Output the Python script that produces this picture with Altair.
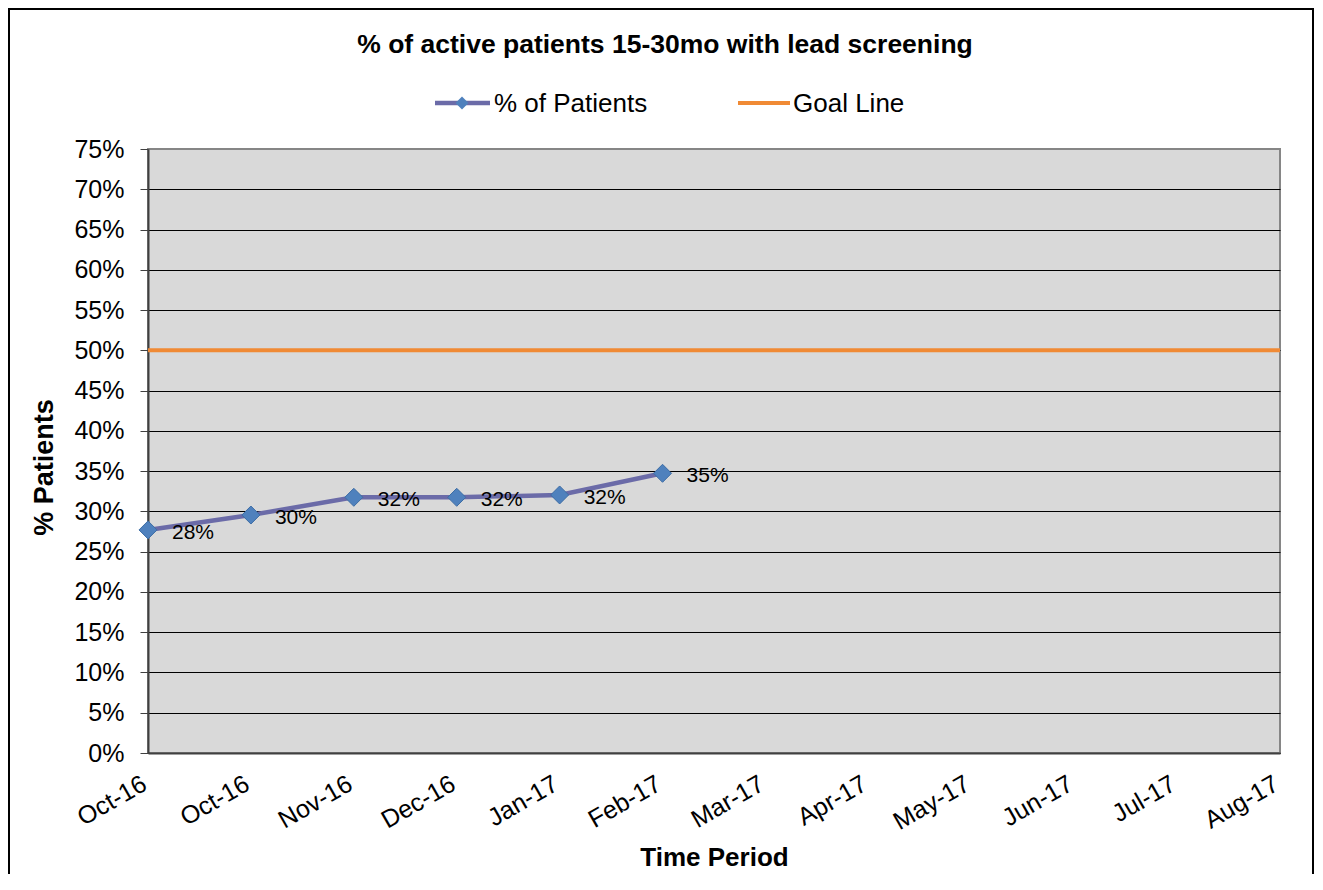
import altair as alt
import pandas as pd

# ---- data ----
months = ["Oct-16", "Oct-16", "Nov-16", "Dec-16", "Jan-17", "Feb-17",
          "Mar-17", "Apr-17", "May-17", "Jun-17", "Jul-17", "Aug-17"]
patients = [0.277, 0.2955, 0.3175, 0.3175, 0.3204, 0.3473]
goal = [0.50] * len(months)
y_ticks = [0, 0.05, 0.10, 0.15, 0.20, 0.25, 0.30, 0.35, 0.40, 0.45,
           0.50, 0.55, 0.60, 0.65, 0.70, 0.75]

title_text = "% of active patients 15-30mo with lead screening"
series_names = ["% of Patients", "Goal Line"]

FONT = "Liberation Sans"
LINE_COLOR = "#6B6BA8"
MARKER_COLOR = "#4F81BD"
GOAL_COLOR = "#F08A35"

pat_df = pd.DataFrame({"idx": list(range(len(patients))), "value": patients})
pat_df["label"] = [f"{round(v * 100):.0f}%" for v in patients]
goal_df = pd.DataFrame({"idx": list(range(len(months))), "value": goal})
one = pd.DataFrame({"a": [0]})

label_expr = "[" + ",".join(f"'{m}'" for m in months) + "][datum.value]"

x_enc = alt.X(
    "idx:O",
    scale=alt.Scale(type="point", domain=list(range(len(months))), padding=0),
    axis=alt.Axis(
        title="Time Period",
        labelExpr=label_expr,
        labelAngle=330,
        labelAlign="right",
        labelBaseline="top",
        labelPadding=18,
        labelOffset=-10,
        labelFontSize=25,
        labelFont=FONT,
        labelColor="black",
        ticks=False,
        tickSize=0,
        domainColor="#404040",
        domainWidth=2,
        grid=False,
        titleFont=FONT,
        titleFontSize=26,
        titleFontWeight="bold",
        titleColor="black",
        titleX=566,
        titleY=104,
        titleAlign="center",
        titleBaseline="middle",
    ),
)

y_scale = alt.Scale(domain=[0, 0.75], nice=False)
y_axis = alt.Axis(
    title="% Patients",
    values=y_ticks,
    format=".0%",
    labelFontSize=25,
    labelFont=FONT,
    labelColor="black",
    labelPadding=16,
    tickSize=8,
    tickColor="#404040",
    tickWidth=1,
    domainColor="#404040",
    domainWidth=2,
    grid=True,
    gridColor={"condition": {"test": "datum.value >= 0.749", "value": "#868686"}, "value": "#000000"},
    gridWidth=1,
    titleFont=FONT,
    titleFontSize=27,
    titleFontWeight="bold",
    titleColor="black",
    titleAngle=270,
    titleX=-104,
    titleY=318,
    titleAlign="center",
    titleBaseline="middle",
)

goal_line = alt.Chart(goal_df).mark_line(color=GOAL_COLOR, strokeWidth=4).encode(
    x=x_enc, y=alt.Y("value:Q", scale=y_scale, axis=y_axis)
)
pat_line = alt.Chart(pat_df).mark_line(color=LINE_COLOR, strokeWidth=4.5).encode(
    x="idx:O", y="value:Q"
)
pat_pts = alt.Chart(pat_df).mark_point(
    shape="diamond", filled=True, size=324, fill=MARKER_COLOR, stroke="#3D6DA5",
    strokeWidth=1, opacity=1
).encode(x="idx:O", y="value:Q")
pat_lbl = alt.Chart(pat_df).mark_text(
    align="left", baseline="middle", dx=24, dy=3, fontSize=21, font=FONT, color="black"
).encode(x="idx:O", y="value:Q", text="label:N")

# ---- title, legend, border (fixed layout styling) ----
title = alt.Chart(one).mark_text(
    font=FONT, fontSize=26.5, fontWeight="bold", align="center", baseline="middle", color="black"
).encode(x=alt.value(517), y=alt.value(-104), text=alt.value(title_text))

leg_line1 = alt.Chart(one).mark_rule(color=LINE_COLOR, strokeWidth=4.5).encode(
    x=alt.value(287), x2=alt.value(342), y=alt.value(-46)
)
leg_pt1 = alt.Chart(one).mark_point(
    shape="diamond", filled=True, size=170, fill=MARKER_COLOR, opacity=1
).encode(x=alt.value(314), y=alt.value(-46))
leg_txt1 = alt.Chart(one).mark_text(
    font=FONT, fontSize=26, align="left", baseline="middle", color="black"
).encode(x=alt.value(346), y=alt.value(-45), text=alt.value(series_names[0]))
leg_line2 = alt.Chart(one).mark_rule(color=GOAL_COLOR, strokeWidth=4).encode(
    x=alt.value(590), x2=alt.value(642), y=alt.value(-46)
)
leg_txt2 = alt.Chart(one).mark_text(
    font=FONT, fontSize=26, align="left", baseline="middle", color="black"
).encode(x=alt.value(645), y=alt.value(-45), text=alt.value(series_names[1]))

border = alt.Chart(one).mark_rect(fillOpacity=0, stroke="black", strokeWidth=2).encode(
    x=alt.value(-139), x2=alt.value(1165), y=alt.value(-140), y2=alt.value(760)
)

chart = alt.layer(
    goal_line, pat_line, pat_pts, pat_lbl,
    title, leg_line1, leg_pt1, leg_txt1, leg_line2, leg_txt2, border
).properties(
    width=1132,
    height=604,
    autosize=alt.AutoSizeParams(type="none"),
    padding={"left": 140, "top": 141, "right": 35, "bottom": 121},
).configure_view(
    fill="#D9D9D9", stroke="#868686", strokeWidth=2
)

chart.save("out.html", embed_options={"renderer": "svg", "actions": False})
